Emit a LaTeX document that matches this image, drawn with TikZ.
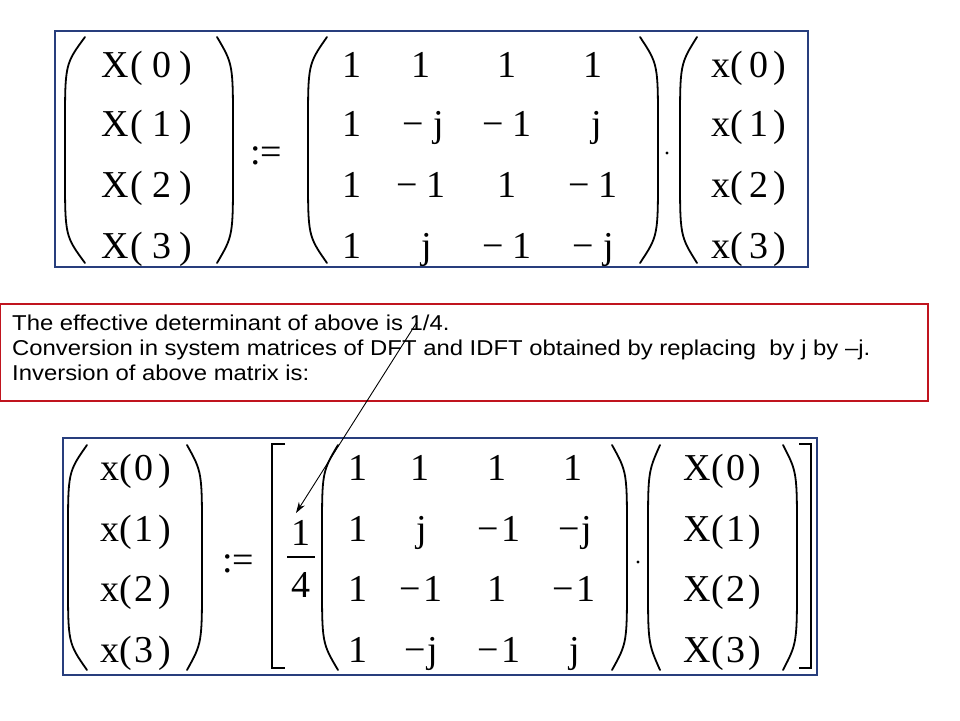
\documentclass[tikz,border=0pt]{standalone}
\usepackage{fontspec}
\setmainfont{Liberation Serif}
\newfontfamily\arialf{Liberation Sans}[FakeStretch=1.11]
\usetikzlibrary{arrows.meta,calc}
\definecolor{boxblue}{RGB}{40,62,125}
\definecolor{boxred}{RGB}{192,20,30}
\newcommand{\mylp}[4]{% #1 end x, #2 mid x, #3 top y, #4 bottom y
  \draw[parenline] (#1,#3) .. controls (#2,{#3+0.12*(#4-#3)}) .. (#2,{#3+0.4*(#4-#3)}) -- (#2,{#4-0.4*(#4-#3)}) .. controls (#2,{#4-0.12*(#4-#3)}) .. (#1,#4);}
\newcommand{\tX}[1]{X\kern1.5pt(\kern10pt #1\kern8pt)}
\newcommand{\tx}[1]{x(\kern6pt #1\kern5pt)}
\newcommand{\bx}[1]{x(\kern2pt #1\kern5pt)}
\newcommand{\bX}[1]{X\kern1pt(\kern2pt #1\kern3pt)}
\begin{document}
\begin{tikzpicture}[x=1pt,y=-1pt,
  ent/.style={font=\fontsize{38}{40}\selectfont, anchor=base, inner sep=0pt},
  txt/.style={font=\arialf\fontsize{21.5}{24}\selectfont, anchor=base west, inner sep=0pt},
  parenline/.style={line width=1.8pt, line cap=round},
  brk/.style={line width=2.6pt},
  dotn/.style={circle, fill=black, inner sep=0pt, minimum size=3.2pt},
  bluebox/.style={draw=boxblue, line width=1.4pt},
  redbox/.style={draw=boxred, line width=1.4pt}]
\useasboundingbox (0,0) rectangle (960,720);
\fill[white] (0,0) rectangle (960,720);

% ---------- top equation ----------
\draw[bluebox] (55,31) rectangle (808,267);
\mylp{85}{65}{37}{263}
\mylp{217}{233}{37}{263}
\mylp{327}{308}{37}{263}
\mylp{640}{658}{37}{263}
\mylp{697}{680}{37}{263}
\foreach \r/\y in {0/77,1/136,2/197,3/258}{
  \node[ent] (X\r) at (147,\y) {\tX{\r}};
  \node[ent] (xx\r) at (749,\y) {\tx{\r}};
}
\node[ent] (ta11) at (352,77) {1};
\node[ent] (ta12) at (421,77) {1};
\node[ent] (ta13) at (507,77) {1};
\node[ent] (ta14) at (593,77) {1};
\node[ent] (ta21) at (352,136) {1};
\node[ent] (ta22) at (423,136) {− j};
\node[ent] (ta23) at (507,136) {− 1};
\node[ent] (ta24) at (597,136) {j};
\node[ent] (ta31) at (352,197) {1};
\node[ent] (ta32) at (421,197) {− 1};
\node[ent] (ta33) at (507,197) {1};
\node[ent] (ta34) at (593,197) {− 1};
\node[ent] (ta41) at (352,258) {1};
\node[ent] (ta42) at (427,258) {j};
\node[ent] (ta43) at (507,258) {− 1};
\node[ent] (ta44) at (593,258) {− j};
\node[ent] (teq) at (266,164) {:=};
\node[dotn] (tdot) at (667,153) {};

% ---------- text box ----------
\draw[redbox] (0,304) rectangle (928,401);
\node[txt] (t1) at (12,330) {The effective determinant of above is 1/4.};
\node[txt] (t2) at (12,355) {Conversion in system matrices of DFT and IDFT obtained by replacing\ \ by j by –j.};
\node[txt] (t3) at (12,380) {Inversion of above matrix is:};

% ---------- bottom equation ----------
\draw[bluebox] (63,438) rectangle (817,675);
\mylp{87}{68}{445}{670}
\mylp{187}{202}{445}{670}
\mylp{338}{322}{445}{670}
\mylp{612}{627}{445}{670}
\mylp{660}{648}{445}{670}
\mylp{783}{797}{445}{670}
\draw[brk] (285,444) -- (272,444) -- (272,668) -- (285,668);
\draw[brk] (799,444) -- (811,444) -- (811,668) -- (799,668);
\foreach \r/\y in {0/480,1/541,2/601,3/662}{
  \node[ent] (bx\r) at (136,\y) {\bx{\r}};
  \node[ent] (bX\r) at (722,\y) {\bX{\r}};
}
\node[ent] (fn) at (301,545) {1};
\draw[line width=2.6pt] (287,557) -- (315,557);
\node[ent] (fd) at (301,597) {4};
\node[ent] (ba11) at (358,480) {1};
\node[ent] (ba12) at (420,480) {1};
\node[ent] (ba13) at (497,480) {1};
\node[ent] (ba14) at (573,480) {1};
\node[ent] (ba21) at (358,541) {1};
\node[ent] (ba22) at (422,541) {j};
\node[ent] (ba23) at (499,541) {−\kern2pt 1};
\node[ent] (ba24) at (575,541) {−\kern2pt j};
\node[ent] (ba31) at (358,601) {1};
\node[ent] (ba32) at (421,601) {−\kern2pt 1};
\node[ent] (ba33) at (497,601) {1};
\node[ent] (ba34) at (574,601) {−\kern2pt 1};
\node[ent] (ba41) at (358,662) {1};
\node[ent] (ba42) at (421,662) {−\kern2pt j};
\node[ent] (ba43) at (499,662) {−\kern2pt 1};
\node[ent] (ba44) at (575,662) {j};
\node[ent] (beq) at (238,572) {:=};
\node[dotn] (bdot) at (638,562) {};

% ---------- arrow ----------
\coordinate (arrS) at (417,322);
\coordinate (arrE) at (296,513);
\draw[line width=0.9pt, -{Stealth[length=11pt,width=7pt]}] (arrS) -- (arrE);
\end{tikzpicture}
\end{document}
